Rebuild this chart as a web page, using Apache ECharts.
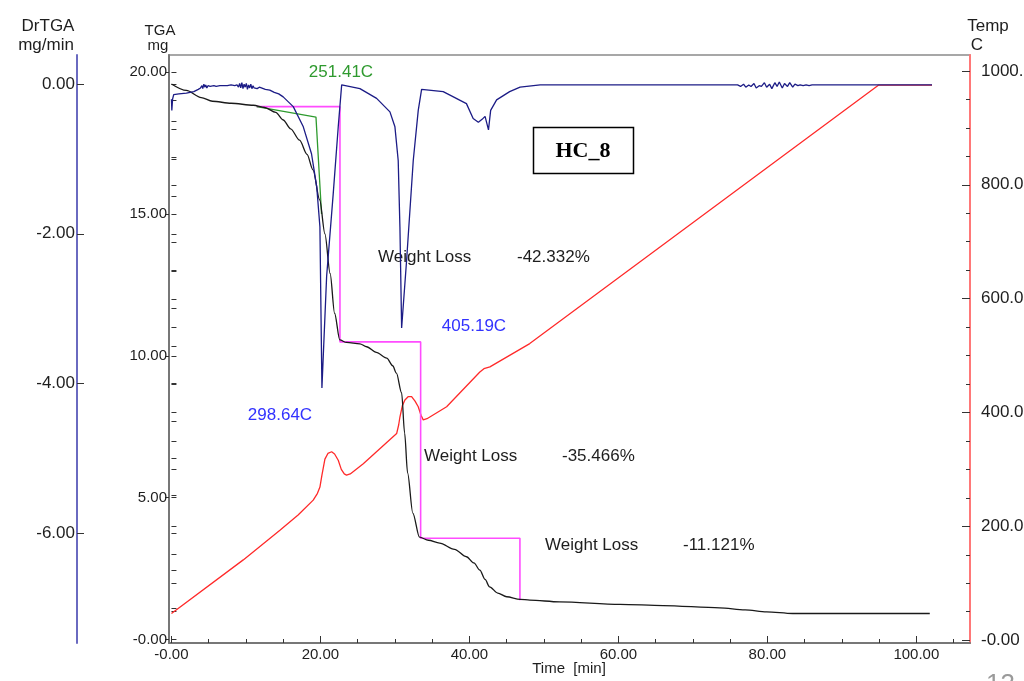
<!DOCTYPE html>
<html>
<head>
<meta charset="utf-8">
<script src="https://cdn.jsdelivr.net/npm/echarts@6/dist/echarts.min.js"></script>
<style>html,body{margin:0;padding:0;background:#fff}#c{width:1024px;height:681px}</style>
</head>
<body>
<div id="c"></div>
<script>
// ---- data (time in min) ----
const tgaTime = [0,2,4,5.5,8,11,12.5,14,15,16,17.2,18.2,19,19.9,20.6,21.3,21.9,22.6,23.5,25.3,26.2,27.5,28.9,29.7,30.2,30.9,31.3,31.7,32.4,33.3,34.5,36,38,39.6,40.6,41.4,42.1,42.7,43.8,45,46.8,48.1,52.1,60.2,66,73.6,77,79.9,83.4,90,101.8];
const tgaMass = [19.58,19.35,19.1,18.97,18.9,18.83,18.75,18.58,18.31,18.0,17.6,17.1,16.55,15.49,14.3,12.9,11.5,10.56,10.47,10.42,10.32,10.12,9.92,9.65,9.39,8.69,7.28,5.87,4.46,3.61,3.5,3.4,3.18,2.92,2.7,2.45,2.12,1.86,1.64,1.51,1.42,1.39,1.33,1.24,1.2,1.12,1.05,0.98,0.92,0.92,0.92];

const drTime = [0,0.05,0.15,0.3,1.0,2.0,3.0,
  3.6,3.9,4.1,4.2,4.35,4.5,4.6,4.75,4.9,5.0,5.2,5.4,5.7,6.0,6.5,7.0,7.5,8.0,8.5,8.8,9.0,9.15,9.3,9.45,9.6,9.75,9.9,10.05,10.2,10.35,10.5,10.65,10.8,10.95,11.1,11.3,11.5,11.8,12.0,
  12.6,13.2,13.8,14.4,15.0,16.35,17.7,18.8,19.5,19.93,20.2,20.83,21.72,22.39,22.85,23.06,25.3,27.54,29.33,30.0,30.44,30.67,30.9,31.57,32.46,33.13,33.58,36.48,39.6,40.5,41.2,41.7,42.1,42.56,42.85,43.65,45.4,46.8,49.5,60,70,
  76,76.4,76.8,77.1,77.5,77.8,78.2,78.5,78.9,79.2,79.6,79.9,80.3,80.6,81,81.3,81.6,82,82.3,82.7,83,83.4,83.7,84.1,84.4,84.8,85.2,85.6,86,
  90,95,102.1];
const drValue = [-0.2,-0.35,-0.2,-0.14,-0.13,-0.12,-0.1,
  -0.07,-0.05,-0.02,-0.06,0.0,-0.04,-0.01,-0.05,-0.02,-0.04,-0.03,-0.05,-0.02,-0.03,-0.02,-0.02,-0.02,-0.01,-0.02,-0.01,-0.04,0.01,-0.05,0.02,-0.06,0.0,-0.04,0.01,-0.07,-0.01,-0.05,0.0,-0.06,-0.02,-0.05,-0.03,-0.06,-0.04,-0.05,
  -0.07,-0.08,-0.11,-0.13,-0.17,-0.3,-0.57,-0.93,-1.37,-1.91,-4.06,-2.57,-1.46,-0.57,-0.01,0.0,-0.06,-0.19,-0.37,-0.57,-1.02,-1.91,-3.26,-2.35,-1.02,-0.35,-0.07,-0.1,-0.26,-0.46,-0.51,-0.47,-0.43,-0.61,-0.35,-0.21,-0.1,-0.04,-0.01,-0.01,-0.01,
  -0.01,-0.03,0.0,-0.04,-0.01,-0.03,0.01,-0.05,-0.02,-0.03,0.02,-0.04,0.0,-0.06,0.02,-0.03,0.03,-0.05,0.01,-0.03,0.02,-0.04,0.0,-0.02,-0.01,-0.02,-0.01,-0.02,-0.01,
  -0.01,-0.01,-0.01];

const tempTime = [0,9.64,14.56,17,19.03,19.6,19.93,20.2,20.6,21.0,21.5,21.9,22.39,22.8,23.2,23.5,24.0,25.75,30.23,30.5,30.67,31.0,31.34,31.8,32.24,32.7,33.13,33.5,33.8,34.3,36.94,41.4,41.95,42.75,48.1,94.9,102.1];
const tempValue = [47,141,193,220,246,258,269,290,318,328,331,327,316,300,292,290,292,310,363,378,392,412,422,428,428,420,410,395,387,389,410,471,477,480,521,975,975];

const stepTime = [11.44,22.62,22.62,33.45,33.45,46.78,46.78];
const stepMass = [18.78,18.78,10.49,10.49,3.57,3.57,1.39];

const onsetTime = [11.44,19.4,20.15];
const onsetMass = [18.78,18.41,15.0];

const xTicks = [0,20,40,60,80,100];
const tgaTicks = [0,5,10,15,20];
const drTicks = [0,-2,-4,-6];
const tempTicks = [0,200,400,600,800,1000];

const annotations = [
  {text:'251.41C', color:'#2f9a2f'},
  {text:'298.64C', color:'#3232ff'},
  {text:'405.19C', color:'#3232ff'}
];
const lossLabels = ['-42.332%','-35.466%','-11.121%'];

// ---- helpers ----
const zip = (a,b) => a.map((v,i)=>[v,b[i]]);
const range = (a,b,s) => { const r=[]; for(let v=a; v<=b+1e-9; v+=s) r.push(+v.toFixed(4)); return r; };
const fmt = v => (Math.abs(v) < 1e-9 ? '-0.00' : v.toFixed(2));
const fmtDr = v => (Math.abs(v) < 1e-9 ? '0.00' : v.toFixed(2));
const FONT = '"Liberation Sans", Arial, sans-serif';
const txtColor = '#1e1e1e';

const chart = echarts.init(document.getElementById('c'), null, {renderer:'canvas'});

const yMain = (o) => Object.assign({
  type:'value', gridIndex:0, splitLine:{show:false}, axisLabel:{show:false}, axisTick:{show:false}, axisLine:{show:false}
}, o);

const option = {
  animation:false,
  backgroundColor:'#fff',
  grid:{left:169, right:54, top:55, bottom:38, containLabel:false, outerBoundsMode:'none', show:true, borderColor:'#8a8a8a', borderWidth:1.5},
  xAxis:[
    {type:'value', min:-0.33, max:107.2, position:'bottom',
     axisLine:{show:true, onZero:false, lineStyle:{color:'#777', width:2}},
     axisTick:{show:true, inside:true, length:7, customValues:xTicks, lineStyle:{color:'#333'}},
     axisLabel:{show:true, customValues:xTicks, formatter:fmt, margin:4, fontFamily:FONT, fontSize:15, color:txtColor},
     splitLine:{show:false}},
    {type:'value', min:-0.33, max:107.2, position:'bottom',
     axisLine:{show:false, onZero:false},
     axisTick:{show:true, inside:true, length:4, customValues:range(5,105,5), lineStyle:{color:'#333'}},
     axisLabel:{show:false}, splitLine:{show:false}}
  ],
  yAxis:[
    yMain({position:'left', offset:0, min:-0.12, max:20.6,
      axisLine:{show:true, onZero:false, lineStyle:{color:'#777', width:2}},
      axisTick:{show:true, inside:false, length:4, customValues:tgaTicks, lineStyle:{color:'#333'}},
      axisLabel:{show:true, customValues:tgaTicks, formatter:fmt, margin:2, fontFamily:FONT, fontSize:15, color:txtColor}}),
    yMain({position:'left', offset:0, min:-0.12, max:20.6,
      axisTick:{show:true, inside:true, length:5, customValues:range(0,20,1), lineStyle:{color:'#333'}}}),
    yMain({position:'left', offset:92, min:-7.47, max:0.39,
      axisLine:{show:true, onZero:false, lineStyle:{color:'#6a6ac0', width:2}},
      axisTick:{show:true, inside:true, length:7, customValues:drTicks, lineStyle:{color:'#333'}},
      axisLabel:{show:true, customValues:drTicks, formatter:fmtDr, margin:2, fontFamily:FONT, fontSize:17, color:txtColor}}),
    yMain({position:'left', offset:92, min:-7.47, max:0.39,
      axisTick:{show:true, inside:true, length:5, customValues:range(-7,0,0.5), lineStyle:{color:'#333'}}}),
    yMain({position:'right', offset:0, min:-5, max:1028,
      axisLine:{show:true, onZero:false, lineStyle:{color:'#ff7878', width:2}},
      axisTick:{show:true, inside:true, length:8, customValues:tempTicks, lineStyle:{color:'#333'}},
      axisLabel:{show:true, customValues:tempTicks, formatter:fmt, margin:11, fontFamily:FONT, fontSize:17, color:txtColor}}),
    yMain({position:'right', offset:0, min:-5, max:1028,
      axisTick:{show:true, inside:true, length:4, customValues:range(0,1000,50), lineStyle:{color:'#333'}}})
  ],
  series:[
    {type:'line', name:'Temp', xAxisIndex:0, yAxisIndex:4, data:zip(tempTime,tempValue), showSymbol:false, symbol:'none', smooth:false, lineStyle:{color:'#ff2a2a', width:1.3}},
    {type:'line', name:'Step', xAxisIndex:0, yAxisIndex:0, data:zip(stepTime,stepMass), showSymbol:false, symbol:'none', lineStyle:{color:'#ff4cff', width:1.6}},
    {type:'line', name:'Onset', xAxisIndex:0, yAxisIndex:0, data:zip(onsetTime,onsetMass), showSymbol:false, symbol:'none', lineStyle:{color:'#2e9a2e', width:1.3}},
    {type:'line', name:'TGA', xAxisIndex:0, yAxisIndex:0, data:zip(tgaTime,tgaMass), showSymbol:false, symbol:'none', smooth:0.3, smoothMonotone:'x', lineStyle:{color:'#1a1a1a', width:1.3}},
    {type:'line', name:'DrTGA', xAxisIndex:0, yAxisIndex:2, data:zip(drTime,drValue), showSymbol:false, symbol:'none', lineStyle:{color:'#1c1c86', width:1.3}}
  ],
  graphic:[
    {type:'text', x:48, y:26, style:{text:'DrTGA', font:'17px '+FONT, fill:txtColor, textAlign:'center', textVerticalAlign:'middle'}},
    {type:'text', x:46, y:45, style:{text:'mg/min', font:'17px '+FONT, fill:txtColor, textAlign:'center', textVerticalAlign:'middle'}},
    {type:'text', x:160, y:31, style:{text:'TGA', font:'15px '+FONT, fill:txtColor, textAlign:'center', textVerticalAlign:'middle'}},
    {type:'text', x:158, y:46, style:{text:'mg', font:'15px '+FONT, fill:txtColor, textAlign:'center', textVerticalAlign:'middle'}},
    {type:'text', x:988, y:26, style:{text:'Temp', font:'17px '+FONT, fill:txtColor, textAlign:'center', textVerticalAlign:'middle'}},
    {type:'text', x:977, y:45, style:{text:'C', font:'17px '+FONT, fill:txtColor, textAlign:'center', textVerticalAlign:'middle'}},
    {type:'text', x:569, y:669, style:{text:'Time  [min]', font:'15px '+FONT, fill:txtColor, textAlign:'center', textVerticalAlign:'middle'}},
    {type:'text', x:341, y:72, style:{text:annotations[0].text, font:'17px '+FONT, fill:annotations[0].color, textAlign:'center', textVerticalAlign:'middle'}},
    {type:'text', x:280, y:415, style:{text:annotations[1].text, font:'17px '+FONT, fill:annotations[1].color, textAlign:'center', textVerticalAlign:'middle'}},
    {type:'text', x:474, y:326, style:{text:annotations[2].text, font:'17px '+FONT, fill:annotations[2].color, textAlign:'center', textVerticalAlign:'middle'}},
    {type:'text', x:378, y:257, style:{text:'Weight Loss', font:'17px '+FONT, fill:txtColor, textAlign:'left', textVerticalAlign:'middle'}},
    {type:'text', x:517, y:257, style:{text:lossLabels[0], font:'17px '+FONT, fill:txtColor, textAlign:'left', textVerticalAlign:'middle'}},
    {type:'text', x:424, y:456, style:{text:'Weight Loss', font:'17px '+FONT, fill:txtColor, textAlign:'left', textVerticalAlign:'middle'}},
    {type:'text', x:562, y:456, style:{text:lossLabels[1], font:'17px '+FONT, fill:txtColor, textAlign:'left', textVerticalAlign:'middle'}},
    {type:'text', x:545, y:545, style:{text:'Weight Loss', font:'17px '+FONT, fill:txtColor, textAlign:'left', textVerticalAlign:'middle'}},
    {type:'text', x:683, y:545, style:{text:lossLabels[2], font:'17px '+FONT, fill:txtColor, textAlign:'left', textVerticalAlign:'middle'}},
    {type:'rect', shape:{x:533.5, y:127.5, width:100, height:46}, style:{fill:'#fff', stroke:'#000', lineWidth:1.5}, z:10},
    {type:'text', x:583, y:151, z:11, style:{text:'HC_8', font:'bold 22px "Liberation Serif", "Times New Roman", serif', fill:'#000', textAlign:'center', textVerticalAlign:'middle'}},
    {type:'text', x:986, y:672, style:{text:'13', font:'26px '+FONT, fill:'#9a9a9a', textAlign:'left', textVerticalAlign:'top'}}
  ]
};
chart.setOption(option);
</script>
</body>
</html>
